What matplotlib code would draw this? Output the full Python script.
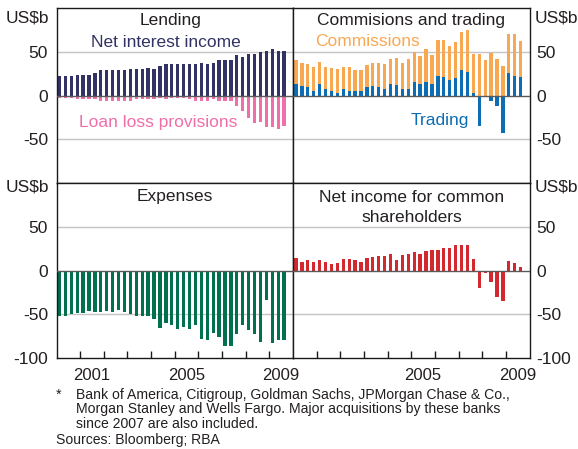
import matplotlib
matplotlib.use("Agg")
import matplotlib.pyplot as plt
import numpy as np

plt.rcParams['font.family'] = ['Liberation Sans', 'DejaVu Sans']

# Quarterly data, 2000 Q1 - 2009 Q3 (US$b)
start_year = 2000
net_interest_income = [21.8, 21.8, 22.1, 22.9, 22.9, 24.0, 25.2, 28.6, 28.6, 28.6,
                       28.6, 28.6, 29.8, 29.8, 29.8, 31.7, 30.5, 33.6, 36.3, 36.3,
                       36.3, 35.5, 36.3, 36.3, 37.4, 36.3, 37.4, 40.1, 40.1, 40.1,
                       45.8, 44.3, 47.7, 46.9, 49.6, 50.8, 52.7, 50.8, 50.8]
loan_loss_provisions = [-3, -3, -3, -4, -4, -4, -4, -6.5, -6, -6.5,
                        -6, -6.5, -6, -4.5, -4.5, -4.5, -4, -3, -4, -3,
                        -3, -3, -4, -6, -6, -6, -4, -6, -6.5, -6.5,
                        -11.5, -18, -25.6, -31, -30, -36, -36, -38, -35]
trading = [12.6, 10.3, 9.5, 5.7, 12.6, 6.9, 5.7, 3.4, 6.9, 5.7,
           5.7, 4.6, 9.2, 10.3, 9.2, 6.9, 12.6, 11.5, 6.9, 8.0,
           14.9, 12.6, 16.0, 12.6, 21.8, 20.6, 17.2, 19.5, 28.6, 26.3,
           3.4, -35, 0, -6.5, -12.2, -43, 25.2, 21.8, 20.6]
commissions = [27.5, 26.7, 26.0, 26.3, 25.2, 25.1, 25.2, 26.4, 25.1, 26.3,
               22.9, 24.0, 25.2, 26.7, 27.8, 28.6, 28.6, 30.9, 29.7, 33.2,
               34.3, 32.1, 36.7, 33.2, 41.2, 42.4, 38.9, 41.2, 43.6, 48.9,
               43.6, 47.0, 40.1, 48.1, 41.2, 33.2, 44.6, 48.0, 41.2]
expenses = [-51.5, -51.5, -49.2, -48.1, -48.1, -45.8, -46.9, -46.9, -45.8, -46.9,
            -44.7, -46.9, -49.2, -51.5, -51.5, -51.5, -55.0, -65.3, -59.5, -61.8,
            -66.4, -64.1, -66.4, -61.8, -77.9, -79.0, -71.0, -75.6, -85.9, -85.9,
            -72.1, -61.8, -67.6, -72.1, -81.3, -33.2, -82.4, -79.0, -79.0]
net_income = [14.5, 9.9, 12.2, 9.9, 12.2, 9.9, 7.6, 8.8, 13.4, 13.4,
              12.2, 9.9, 14.5, 15.6, 16.8, 16.8, 19.1, 12.2, 17.9, 19.1,
              21.4, 19.1, 22.5, 23.7, 23.7, 26.0, 26.0, 29.4, 29.4, 29.4,
              13.4, -19.5, -2.3, -12.6, -29.8, -34.4, 11.1, 8.8, 4.2]

year_labels_left = ['2001', '2005', '2009']
year_labels_right = ['2005', '2009']
y_ticks = [-100, -50, 0, 50, 100]

W, H = 578, 449
fig = plt.figure(figsize=(W / 100, H / 100), dpi=100)

def fx(px):
    return px / W

def fy(py):
    return 1 - py / H

xl, xm, xr = 56.5, 293.0, 529.5
yt, ym, yb = 8.0, 183.0, 358.0

ax_tl = fig.add_axes([fx(xl), fy(ym), fx(xm - xl), (ym - yt) / H])
ax_tr = fig.add_axes([fx(xm), fy(ym), fx(xr - xm), (ym - yt) / H])
ax_bl = fig.add_axes([fx(xl), fy(yb), fx(xm - xl), (yb - ym) / H])
ax_br = fig.add_axes([fx(xm), fy(yb), fx(xr - xm), (yb - ym) / H])

n = len(net_interest_income)
x = start_year + 0.125 + 0.25 * np.arange(n)
bw = 0.14

C_NII = '#323264'
C_LLP = '#F06EAA'
C_COM = '#F9A852'
C_TRD = '#0C6DB4'
C_EXP = '#00704F'
C_NET = '#D2282E'
TXT = '#231F20'
FS = 12.5

for ax in (ax_tl, ax_tr, ax_bl, ax_br):
    ax.set_xlim(2000, 2010)
    ax.set_ylim(-100, 100)
    for s in ax.spines.values():
        s.set_color('#1a1a1a')
        s.set_linewidth(1.0)
    for g in (-50, 50):
        ax.axhline(g, color='#c4c4c4', lw=1.0, zorder=0)
    ax.axhline(0, color='#5a5a5a', lw=1.0, zorder=3)
    ax.set_yticks(y_ticks)
    ax.tick_params(axis='y', length=0, labelsize=FS, labelcolor=TXT)

# Top-left: lending
ax_tl.bar(x, net_interest_income, width=bw, color=C_NII, zorder=2)
ax_tl.bar(x, loan_loss_provisions, width=bw, color=C_LLP, zorder=2)
# Top-right: commissions and trading
trd = np.array(trading)
ax_tr.bar(x, trd, width=bw, color=C_TRD, zorder=2)
ax_tr.bar(x, commissions, width=bw, bottom=np.clip(trd, 0, None), color=C_COM, zorder=2)
# Bottom-left: expenses
ax_bl.bar(x, expenses, width=bw, color=C_EXP, zorder=2)
# Bottom-right: net income
ax_br.bar(x, net_income, width=bw, color=C_NET, zorder=2)

# y tick labels
ax_tl.set_yticklabels(['', '-50', '0', '50', ''])
ax_bl.set_yticklabels(['-100', '-50', '0', '50', ''])
for ax in (ax_tr, ax_br):
    ax.yaxis.tick_right()
ax_tr.set_yticklabels(['', '-50', '0', '50', ''])
ax_br.set_yticklabels(['-100', '-50', '0', '50', ''])
for ax in (ax_tl, ax_bl):
    ax.tick_params(axis='y', pad=6)
for ax in (ax_tr, ax_br):
    ax.tick_params(axis='y', pad=5)

# x ticks
for ax in (ax_tl, ax_tr):
    ax.set_xticks([])
bounds = list(range(2001, 2010))
for ax, labs in ((ax_bl, year_labels_left), (ax_br, year_labels_right)):
    ax.set_xticks(bounds)
    ax.set_xticklabels([])
    ax.tick_params(axis='x', which='major', direction='in', length=5, width=1, color='#1a1a1a')
    ax.set_xticks([int(l) + 0.5 for l in labs], minor=True)
    ax.set_xticklabels(labs, minor=True)
    ax.tick_params(axis='x', which='minor', length=0, labelsize=FS - 0.5, labelcolor=TXT, pad=7)

# unit labels
for ypx in (18.5, 187.0):
    fig.text(fx(49.5), fy(ypx), 'US$b', ha='right', va='center', fontsize=FS, color=TXT)
    fig.text(fx(535.0), fy(ypx), 'US$b', ha='left', va='center', fontsize=FS, color=TXT)

# panel titles and series labels
fig.text(fx(171), fy(21), 'Lending', ha='center', va='center', fontsize=FS, color=TXT)
fig.text(fx(165.5), fy(42.5), 'Net interest income', ha='center', va='center', fontsize=FS, color=C_NII)
fig.text(fx(158), fy(122.5), 'Loan loss provisions', ha='center', va='center', fontsize=FS, color=C_LLP)
fig.text(fx(411), fy(21), 'Commisions and trading', ha='center', va='center', fontsize=FS, color=TXT)
fig.text(fx(367.5), fy(41), 'Commissions', ha='center', va='center', fontsize=FS, color=C_COM)
fig.text(fx(439.5), fy(120), 'Trading', ha='center', va='center', fontsize=FS, color=C_TRD)
fig.text(fx(175), fy(197), 'Expenses', ha='center', va='center', fontsize=FS, color=TXT)
fig.text(fx(411.5), fy(197), 'Net income for common', ha='center', va='center', fontsize=FS, color=TXT)
fig.text(fx(411.5), fy(217), 'shareholders', ha='center', va='center', fontsize=FS, color=TXT)

# footnotes
FN = 10.1
fig.text(fx(56), fy(394.5), '*', ha='left', va='center', fontsize=FN, color=TXT)
fn_lines = ['Bank of America, Citigroup, Goldman Sachs, JPMorgan Chase & Co.,',
            'Morgan Stanley and Wells Fargo. Major acquisitions by these banks',
            'since 2007 are also included.']
for i, line in enumerate(fn_lines):
    fig.text(fx(76), fy(394.5 + 14.5 * i), line, ha='left', va='center', fontsize=FN, color=TXT)
fig.text(fx(55.5), fy(440), 'Sources: Bloomberg; RBA', ha='left', va='center', fontsize=FN, color=TXT)

fig.savefig('out.png', dpi=100)
